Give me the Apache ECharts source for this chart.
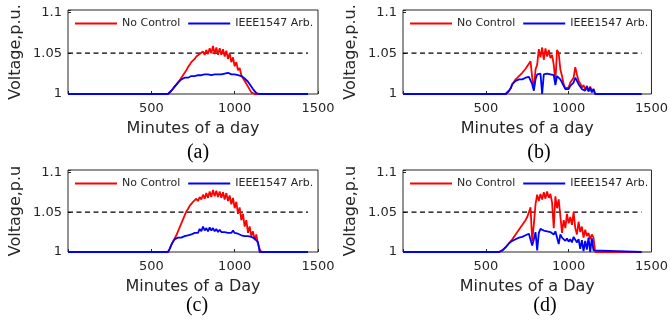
<!DOCTYPE html>
<html>
<head>
<meta charset="utf-8">
<script src="https://cdn.jsdelivr.net/npm/echarts@6/dist/echarts.min.js"></script>
<style>
  html, body { margin: 0; padding: 0; background: #fff; }
  #chart { width: 671px; height: 332px; }
</style>
</head>
<body>
<div id="chart"></div>
<script>
// time grid (minutes of the day) shared by all four panels
const minutes = [0,
  580, 590,
  600, 610, 620, 630, 640, 650, 660, 670, 680, 690,
  700, 710, 720, 730, 740, 750, 760, 770, 780, 790,
  800, 810, 820, 830, 840, 850, 860, 870, 880, 890,
  900, 910, 920, 930, 940, 950, 960, 970, 980, 990,
  1000, 1010, 1020, 1030, 1040, 1050, 1060, 1070, 1080, 1090,
  1100, 1110, 1120, 1130, 1140, 1150, 1160,
  1440];

// (a)
const noCtrlA = [1,
  1, 1,
  1.000, 1.001, 1.004, 1.006, 1.009, 1.011, 1.014, 1.017, 1.020, 1.023,
  1.026, 1.029, 1.033, 1.036, 1.039, 1.041, 1.043, 1.046, 1.045, 1.049,
  1.047, 1.052, 1.048, 1.054, 1.049, 1.056, 1.050, 1.059, 1.049, 1.057,
  1.048, 1.056, 1.048, 1.055, 1.046, 1.053, 1.043, 1.050, 1.039, 1.045,
  1.034, 1.039, 1.029, 1.032, 1.023, 1.025, 1.016, 1.017, 1.009, 1.007,
  1.002, 1.000, 1.000, 1.000, 1.000, 1.000, 1.000,
  1];
const ieeeA = [1,
  1, 1,
  1.000, 1.001, 1.004, 1.006, 1.009, 1.011, 1.014, 1.016, 1.018, 1.019,
  1.020, 1.021, 1.020, 1.021, 1.022, 1.021, 1.022, 1.022, 1.023, 1.022,
  1.023, 1.023, 1.024, 1.023, 1.024, 1.024, 1.023, 1.025, 1.024, 1.025,
  1.024, 1.025, 1.024, 1.026, 1.025, 1.024, 1.026, 1.025, 1.024, 1.025,
  1.024, 1.025, 1.023, 1.023, 1.022, 1.021, 1.019, 1.017, 1.015, 1.012,
  1.011, 1.006, 1.005, 1.001, 1.002, 1.000, 1.000,
  1];

// (b)
const noCtrlB = [1,
  1, 1,
  1.000, 1.000, 1.000, 1.002, 1.004, 1.007, 1.012, 1.015, 1.018, 1.020,
  1.022, 1.024, 1.026, 1.028, 1.031, 1.033, 1.037, 1.040, 1.020, 1.006,
  1.030, 1.036, 1.055, 1.045, 1.057, 1.042, 1.056, 1.046, 1.054, 1.044,
  1.048, 1.036, 1.015, 1.054, 1.050, 1.030, 1.022, 1.012, 1.007, 1.009,
  1.008, 1.014, 1.012, 1.020, 1.033, 1.024, 1.016, 1.013, 1.008, 1.011,
  1.005, 1.010, 1.004, 1.009, 1.003, 1.006, 1.000,
  1];
const ieeeB = [1,
  1, 1,
  1.000, 1.000, 1.000, 1.002, 1.004, 1.007, 1.012, 1.014, 1.016, 1.017,
  1.018, 1.019, 1.018, 1.019, 1.020, 1.019, 1.021, 1.020, 1.012, 1.004,
  1.018, 1.024, 1.022, 1.025, 1.000, 1.024, 1.026, 1.025, 1.026, 1.024,
  1.025, 1.023, 1.011, 1.022, 1.024, 1.018, 1.016, 1.010, 1.006, 1.004,
  1.006, 1.010, 1.009, 1.014, 1.020, 1.016, 1.012, 1.010, 1.006, 1.008,
  1.004, 1.009, 1.003, 1.008, 1.002, 1.006, 1.000,
  1];

// (c)
const noCtrlC = [1,
  1, 1,
  1.000, 1.004, 1.009, 1.013, 1.017, 1.021, 1.026, 1.031, 1.036, 1.041,
  1.046, 1.051, 1.054, 1.058, 1.060, 1.063, 1.062, 1.067, 1.064, 1.069,
  1.066, 1.072, 1.067, 1.074, 1.068, 1.076, 1.069, 1.078, 1.070, 1.077,
  1.069, 1.076, 1.068, 1.075, 1.066, 1.074, 1.064, 1.071, 1.060, 1.068,
  1.055, 1.063, 1.048, 1.056, 1.040, 1.048, 1.032, 1.040, 1.024, 1.032,
  1.020, 1.026, 1.015, 1.022, 1.010, 1.004, 1.000,
  1];
const ieeeC = [1,
  1, 1,
  1.000, 1.004, 1.009, 1.013, 1.016, 1.017, 1.018, 1.019, 1.018, 1.019,
  1.020, 1.019, 1.021, 1.020, 1.022, 1.021, 1.024, 1.026, 1.024, 1.029,
  1.026, 1.032, 1.027, 1.030, 1.026, 1.031, 1.027, 1.030, 1.026, 1.029,
  1.025, 1.028, 1.025, 1.027, 1.025, 1.027, 1.024, 1.026, 1.024, 1.027,
  1.024, 1.026, 1.023, 1.022, 1.021, 1.021, 1.020, 1.021, 1.020, 1.020,
  1.019, 1.019, 1.017, 1.016, 1.012, 1.000, 1.000,
  1];

// (d)
const noCtrlD = [1,
  1, 1,
  1.002, 1.004, 1.006, 1.008, 1.011, 1.013, 1.016, 1.019, 1.022, 1.025,
  1.028, 1.031, 1.034, 1.037, 1.040, 1.044, 1.050, 1.056, 1.014, 1.035,
  1.060, 1.072, 1.064, 1.073, 1.066, 1.075, 1.067, 1.076, 1.068, 1.073,
  1.062, 1.030, 1.070, 1.055, 1.066, 1.045, 1.024, 1.040, 1.030, 1.048,
  1.036, 1.044, 1.034, 1.050, 1.030, 1.022, 1.038, 1.025, 1.032, 1.018,
  1.028, 1.020, 1.024, 1.016, 1.022, 1.018, 1.000,
  1];
const ieeeD = [1,
  1, 1,
  1.002, 1.004, 1.006, 1.008, 1.011, 1.013, 1.014, 1.015, 1.016, 1.017,
  1.018, 1.018, 1.019, 1.020, 1.021, 1.022, 1.023, 1.024, 1.008, 1.016,
  1.025, 1.002, 1.024, 1.029, 1.031, 1.027, 1.029, 1.026, 1.028, 1.025,
  1.027, 1.022, 1.026, 1.024, 1.010, 1.022, 1.018, 1.020, 1.014, 1.017,
  1.013, 1.016, 1.012, 1.019, 1.021, 1.012, 1.016, 1.004, 1.015, 1.001,
  1.014, 1.003, 1.018, 1.000, 1.017, 1.002, 1.000,
  1];

// 1.05 p.u. limit line
const limitMinutes = [0, 1440];
const limitValues = [1.05, 1.05];

const xTicks = [500, 1000, 1500];
const yTicks = [1, 1.05, 1.1];

const panels = [
  {left: 68,  top: 10,  width: 250, height: 84, red: noCtrlA, blue: ieeeA, xName: 'Minutes of a day', yName: 'Voltage,p.u.', tag: '(a)', tagX: 198, tagY: 153},
  {left: 403, top: 10,  width: 249, height: 84, red: noCtrlB, blue: ieeeB, xName: 'Minutes of a day', yName: 'Voltage,p.u.', tag: '(b)', tagX: 539, tagY: 153},
  {left: 68,  top: 170, width: 250, height: 82, red: noCtrlC, blue: ieeeC, xName: 'Minutes of a Day', yName: 'Voltage,p.u',  tag: '(c)', tagX: 197, tagY: 306},
  {left: 403, top: 170, width: 249, height: 82, red: noCtrlD, blue: ieeeD, xName: 'Minutes of a Day', yName: 'Voltage,p.u',  tag: '(d)', tagX: 545, tagY: 306}
];

const txt = '#262626';
const font = 'DejaVu Sans';

function pairs(xs, ys) {
  return xs.map((x, i) => [x, ys[i]]);
}

let option = {
  animation: false,
  backgroundColor: '#fff',
  grid: [], xAxis: [], yAxis: [], legend: [], series: [], graphic: []
};

panels.forEach((p, i) => {
  option.grid.push({
    left: p.left, top: p.top, width: p.width, height: p.height,
    show: true, borderColor: txt, borderWidth: 1, backgroundColor: 'transparent'
  });
  option.xAxis.push({
    gridIndex: i, type: 'value', min: 0, max: 1500, interval: 500,
    name: p.xName, nameLocation: 'middle', nameGap: 27,
    nameTextStyle: {fontFamily: font, fontSize: 16, color: txt},
    axisLine: {show: false},
    axisTick: {inside: true, length: 3, lineStyle: {color: txt}},
    splitLine: {show: false},
    axisLabel: {
      fontFamily: font, fontSize: 13, color: txt, margin: 8,
      formatter: v => xTicks.indexOf(v) >= 0 ? String(v) : ''
    }
  });
  option.yAxis.push({
    gridIndex: i, type: 'value', min: 1, max: 1.103, interval: 0.05,
    name: p.yName, nameLocation: 'middle', nameGap: 44,
    nameTextStyle: {fontFamily: font, fontSize: 16, color: txt},
    axisLine: {show: false},
    axisTick: {inside: true, length: 3, lineStyle: {color: txt}},
    splitLine: {show: false},
    axisLabel: {
      fontFamily: font, fontSize: 13, color: txt, margin: 6,
      formatter: v => yTicks.some(t => Math.abs(t - v) < 1e-9) ? String(+v.toFixed(2)) : ''
    }
  });
  option.legend.push({
    data: ['No Control', 'IEEE1547 Arb.'],
    left: p.left + 7, top: p.top + 8, padding: 0,
    icon: 'rect', itemWidth: 42, itemHeight: 2, itemGap: 8,
    textStyle: {fontFamily: font, fontSize: 11, color: txt}
  });
  option.series.push({
    type: 'line', xAxisIndex: i, yAxisIndex: i, silent: true,
    data: pairs(limitMinutes, limitValues), symbol: 'none',
    lineStyle: {color: '#000', width: 1.2, type: [5, 3.5]}
  });
  option.series.push({
    name: 'No Control', type: 'line', xAxisIndex: i, yAxisIndex: i,
    data: pairs(minutes, p.red), symbol: 'none', color: '#ff0000',
    lineStyle: {color: '#ff0000', width: 1.8}
  });
  option.series.push({
    name: 'IEEE1547 Arb.', type: 'line', xAxisIndex: i, yAxisIndex: i,
    data: pairs(minutes, p.blue), symbol: 'none', color: '#0000ff',
    lineStyle: {color: '#0000ff', width: 1.8}
  });
  option.graphic.push({
    type: 'text', x: p.tagX, y: p.tagY,
    style: {text: p.tag, fontFamily: 'Liberation Serif', fontSize: 20, fill: '#000',
            align: 'center', verticalAlign: 'middle'}
  });
});

let myChart = echarts.init(document.getElementById('chart'));
myChart.setOption(option);
</script>
</body>
</html>
